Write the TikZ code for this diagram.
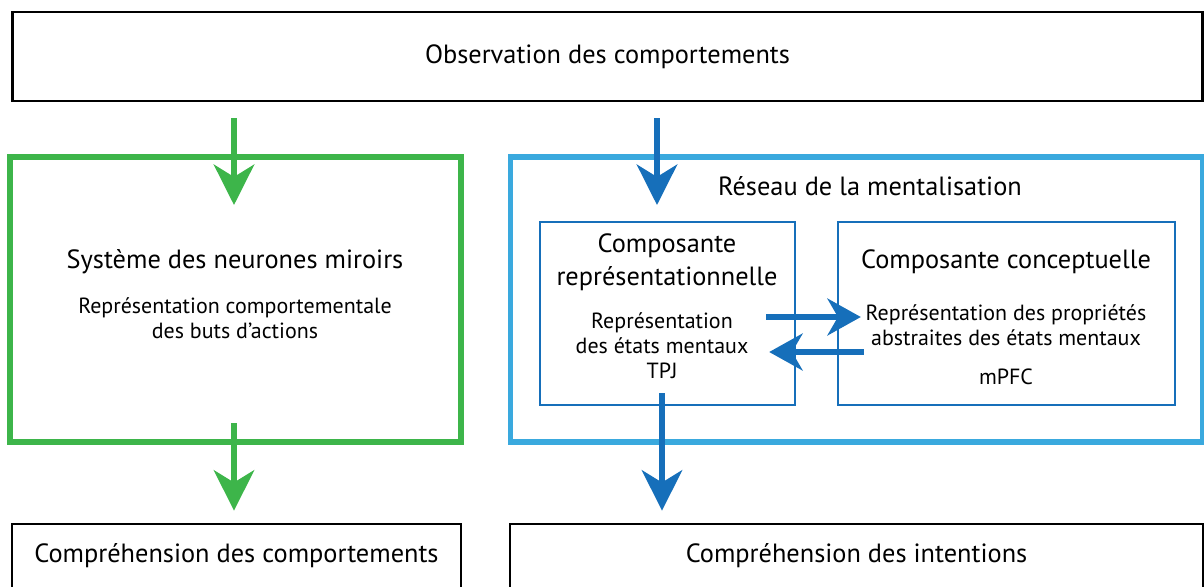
\documentclass[tikz,border=0pt]{standalone}
\usepackage{fontspec}
\setmainfont{PT Sans}
\usepackage{tikz}
\usetikzlibrary{arrows.meta, positioning, calc}

\definecolor{mirrorgreen}{RGB}{61,181,74}
\definecolor{netblue}{RGB}{58,169,222}
\definecolor{darkblue}{RGB}{22,111,186}

\tikzset{
    blackbox/.style={draw=black, line width=1.6pt, inner sep=0pt, font=\fontsize{15}{18}\selectfont},
    greenbox/.style={draw=mirrorgreen, line width=2.9pt, inner sep=0pt},
    bluebox/.style={draw=netblue, line width=2.9pt, inner sep=0pt},
    compbox/.style={draw=darkblue, line width=1.4pt, inner sep=0pt},
    headtext/.style={align=center, inner sep=0pt, font=\fontsize{15}{18.8}\selectfont},
    subtext/.style={align=center, inner sep=0pt, font=\fontsize{12.5}{14.2}\selectfont},
    garrow/.style={draw=mirrorgreen, line width=3.1pt, -{Stealth[length=23pt, width=23pt, inset=7pt]}},
    barrow/.style={draw=darkblue, line width=3.1pt, -{Stealth[length=23pt, width=23pt, inset=7pt]}},
    sidearrow/.style={draw=darkblue, line width=3pt, -{Stealth[length=19pt, width=21pt, inset=6pt]}}
}

\begin{document}
\begin{tikzpicture}[x=0.02cm, y=-0.02cm]
        \useasboundingbox (0,0) rectangle (1204,586);
        \clip (0,0) rectangle (1204,586);

        % Top box (observation)
        \node[blackbox, minimum width=23.82cm, minimum height=1.78cm] (obs) at (607.5,56.5) {Observation des comportements};

        % Green box (mirror neurons, left)
        \node[greenbox, minimum width=9.02cm, minimum height=5.7cm] (mirror) at (235.5,299.5) {};
        \node[headtext] (sys) at (235,262) {Système des neurones miroirs};
        \node[subtext] (sysdesc) at (235,318) {Représentation comportementale\\des buts d’actions};

        % Blue box (mentalisation network, right)
        \node[bluebox, minimum width=13.86cm, minimum height=5.7cm] (network) at (856.5,299.5) {};
        \node[headtext] (nettitle) at (870,186) {Réseau de la mentalisation};

        % Inner box 1 (representational component)
        \node[compbox, minimum width=5.1cm, minimum height=3.66cm] (repr) at (667.5,313.5) {};
        \node[headtext] (reprtitle) at (667,262) {Composante\\représentationnelle};
        \node[subtext] (reprdesc) at (662,346) {Représentation\\des états mentaux\\TPJ};

        % Inner box 2 (conceptual component)
        \node[compbox, minimum width=6.74cm, minimum height=3.66cm] (conc) at (1006.5,313.5) {};
        \node[headtext] (conctitle) at (1006,262) {Composante conceptuelle};
        \node[subtext] (concdesc) at (1006,325) {Représentation des propriétés\\abstraites des états mentaux};
        \node[subtext] (mpfc) at (1006,377) {mPFC};

        % Bottom boxes (understanding)
        \node[blackbox, minimum width=8.98cm, minimum height=1.28cm] (compl) at (236.5,556) {Compréhension des comportements};
        \node[blackbox, minimum width=13.86cm, minimum height=1.28cm] (compr) at (856.5,556) {Compréhension des intentions};

        % Arrows from observation
        \coordinate (gin) at (234,205);
        \coordinate (bin) at (657,205);
        \draw[garrow] ($(obs.south -| gin)+(0,16)$) -- (gin);
        \draw[barrow] ($(obs.south -| bin)+(0,16)$) -- (bin);

        % Arrows between the two components
        \draw[sidearrow] ($(repr.east)+(-30,3.5)$) -- ($(conc.west)+(24,3.5)$);
        \draw[sidearrow] ($(conc.west)+(27,38.5)$) -- ($(repr.east)+(-27,38.5)$);

        % Arrows to understanding
        \coordinate (gout) at (234,423);
        \coordinate (bout) at (662,393);
        \draw[garrow] (gout) -- ($(compl.north -| gout)+(0,-12)$);
        \draw[barrow] (bout) -- ($(compr.north -| bout)+(0,-12)$);
\end{tikzpicture}
\end{document}
